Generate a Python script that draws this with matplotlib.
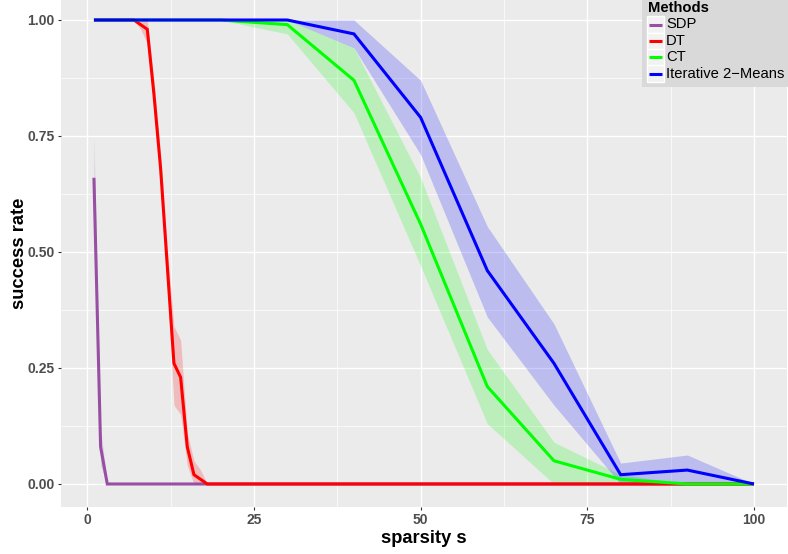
import matplotlib
matplotlib.use("Agg")
import matplotlib.pyplot as plt
from matplotlib.patches import Rectangle
from matplotlib.lines import Line2D

plt.rcParams['font.family'] = ['Liberation Sans', 'DejaVu Sans']

# ---------------- data ----------------
sdp_x  = [1, 2, 3, 4, 5, 10, 15, 20, 30, 40, 50, 60, 70, 80, 90, 100]
sdp_y  = [0.66, 0.08, 0, 0, 0, 0, 0, 0, 0, 0, 0, 0, 0, 0, 0, 0]
sdp_lo = [0.57, 0.04, 0, 0, 0, 0, 0, 0, 0, 0, 0, 0, 0, 0, 0, 0]
sdp_hi = [0.75, 0.12, 0, 0, 0, 0, 0, 0, 0, 0, 0, 0, 0, 0, 0, 0]

dt_x  = [1, 2, 3, 4, 5, 6, 7, 8, 9, 10, 11, 12, 13, 14, 15, 16, 17, 18, 19, 20,
         30, 40, 50, 60, 70, 80, 90, 100]
dt_y  = [1, 1, 1, 1, 1, 1, 1, 0.99, 0.98, 0.84, 0.68, 0.47, 0.26, 0.23, 0.08, 0.02, 0.01, 0, 0, 0,
         0, 0, 0, 0, 0, 0, 0, 0]
dt_lo = [1, 1, 1, 1, 1, 1, 1, 0.98, 0.95, 0.81, 0.65, 0.43, 0.17, 0.15, 0.04, 0.0, 0.0, 0, 0, 0,
         0, 0, 0, 0, 0, 0, 0, 0]
dt_hi = [1, 1, 1, 1, 1, 1, 1, 1.0, 1.0, 0.87, 0.71, 0.51, 0.34, 0.31, 0.11, 0.05, 0.03, 0, 0, 0,
         0, 0, 0, 0, 0, 0, 0, 0]

ct_x  = [1, 10, 20, 30, 40, 50, 60, 70, 80, 90, 100]
ct_y  = [1, 1, 1, 0.99, 0.87, 0.56, 0.21, 0.05, 0.01, 0, 0]
ct_lo = [1, 1, 1, 0.97, 0.80, 0.47, 0.13, 0.0, 0.0, 0, 0]
ct_hi = [1, 1, 1, 1.0, 0.94, 0.66, 0.29, 0.09, 0.02, 0, 0]

km_x  = [1, 10, 20, 30, 40, 50, 60, 70, 80, 90, 100]
km_y  = [1, 1, 1, 1, 0.97, 0.79, 0.46, 0.26, 0.02, 0.03, 0]
km_lo = [1, 1, 1, 1, 0.94, 0.71, 0.36, 0.17, 0.0, 0.0, 0]
km_hi = [1, 1, 1, 1, 1.0, 0.87, 0.555, 0.345, 0.045, 0.0625, 0]

methods = ["SDP", "DT", "CT", "Iterative 2\u2212Means"]
colors = ["#984EA3", "#FF0000", "#00FF00", "#0000FF"]

x_ticks = [0, 25, 50, 75, 100]
y_ticks = [0.00, 0.25, 0.50, 0.75, 1.00]
y_labels = ["0.00", "0.25", "0.50", "0.75", "1.00"]

# ---------------- figure ----------------
W, H = 788, 554
fig = plt.figure(figsize=(W / 100, H / 100), dpi=100)
ax = fig.add_axes([61 / W, (H - 507) / H, (787 - 61) / W, 507 / H])
ax.set_facecolor("#EBEBEB")

series = [(sdp_x, sdp_y, sdp_lo, sdp_hi),
          (dt_x, dt_y, dt_lo, dt_hi),
          (ct_x, ct_y, ct_lo, ct_hi),
          (km_x, km_y, km_lo, km_hi)]

for i, (xs, ys, lo, hi) in enumerate(series):
    ax.fill_between(xs, lo, hi, color=colors[i], alpha=0.2, linewidth=0, zorder=2 + i * 0.1)
for i, (xs, ys, lo, hi) in enumerate(series):
    ax.plot(xs, ys, color=colors[i], lw=2.2, solid_capstyle='butt',
            solid_joinstyle='miter', zorder=3 + i * 0.1)

ax.set_xlim(-3.94, 104.95)
ax.set_ylim(-0.0496, 1.0431)

ax.set_xticks(x_ticks)
ax.set_xticks([12.5, 37.5, 62.5, 87.5], minor=True)
ax.set_yticks(y_ticks)
ax.set_yticklabels(y_labels)
ax.set_yticks([0.125, 0.375, 0.625, 0.875], minor=True)

ax.grid(which='major', color='white', lw=1.0, zorder=0)
ax.grid(which='minor', color='white', lw=0.5, zorder=0)
ax.set_axisbelow(True)
for s in ax.spines.values():
    s.set_visible(False)

ax.tick_params(axis='both', which='major', length=2.5, width=0.8, color='#333333',
               labelsize=10, labelcolor='#4D4D4D', pad=2)
ax.tick_params(axis='both', which='minor', length=0)
for lab in ax.get_xticklabels() + ax.get_yticklabels():
    lab.set_fontweight('bold')

ax.set_xlabel("sparsity s", fontsize=13.2, fontweight='bold', labelpad=2)
ax.set_ylabel("success rate", fontsize=13.2, fontweight='bold')
ax.yaxis.set_label_coords(-0.045, 0.5)

# ---------------- legend (manual, ggplot-like) ----------------
def fx(px):
    return px / W

def fy(py):
    return 1 - py / H

fig.add_artist(Rectangle((fx(642), fy(87)), fx(788) - fx(642), fy(0) - fy(87),
                         transform=fig.transFigure, facecolor="#D9D9D9",
                         edgecolor='none', zorder=10))
fig.text(fx(648), fy(7.5), "Methods", fontsize=10.6, fontweight='bold',
         va='center', ha='left', zorder=11)
row_c = [24.5, 41, 57.3, 73.5]
for i, m in enumerate(methods):
    yc = row_c[i]
    fig.add_artist(Rectangle((fx(647), fy(yc + 8.2)), fx(664) - fx(647), fy(yc - 8.2) - fy(yc + 8.2),
                             transform=fig.transFigure, facecolor="#F2F2F2",
                             edgecolor='white', lw=1.0, zorder=11))
    fig.add_artist(Line2D([fx(649), fx(662)], [fy(yc), fy(yc)], transform=fig.transFigure,
                          color=colors[i], lw=2.2, solid_capstyle='butt', zorder=12))
    fig.text(fx(666), fy(yc), m, fontsize=10.6, va='center', ha='left', zorder=12)

fig.savefig("out.png", dpi=100)
